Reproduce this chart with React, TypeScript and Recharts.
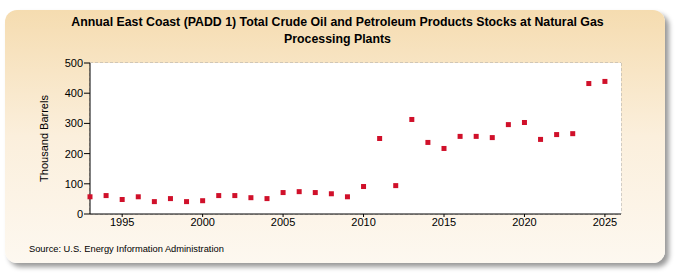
import { CartesianGrid, Scatter, ScatterChart, XAxis, YAxis } from "recharts"

const years = [
  1993, 1994, 1995, 1996, 1997, 1998, 1999, 2000, 2001, 2002, 2003, 2004, 2005, 2006, 2007, 2008, 2009,
  2010, 2011, 2012, 2013, 2014, 2015, 2016, 2017, 2018, 2019, 2020, 2021, 2022, 2023, 2024, 2025,
]
const stocks = [
  57, 61, 48, 57, 41, 51, 41, 44, 61, 61, 54, 51, 71, 74, 71, 67, 57,
  91, 250, 94, 313, 237, 217, 257, 257, 253, 296, 303, 247, 263, 266, 432, 439,
]
const xTicks = [1995, 2000, 2005, 2010, 2015, 2020, 2025]
const yTicks = [0, 100, 200, 300, 400, 500]

const data = years.map((year, i) => ({ year, value: stocks[i] }))

const font = "'Liberation Sans', Arial, sans-serif"

const Square = (props: any) => {
  const { cx, cy } = props
  return <rect x={cx - 2.5} y={cy - 2.5} width={5} height={5} fill="#d0102a" />
}

export default function App() {
  return (
    <div style={{ position: "absolute", left: 0, top: 0, width: 675, height: 275, fontFamily: font }}>
      <div
        style={{
          position: "absolute",
          left: 5,
          top: 10,
          width: 660,
          height: 253,
          borderRadius: 12,
          background: "linear-gradient(to bottom, #f5dcb0 0%, #fbefdc 50%, #fdf8f0 100%)",
          boxShadow: "4px 4px 5px #9a9a9a",
        }}
      />
      <div
        style={{
          position: "absolute",
          left: 0,
          top: 13,
          width: 675,
          textAlign: "center",
          fontWeight: "bold",
          fontSize: 13,
          lineHeight: "17px",
          color: "#000",
          transform: "scaleX(0.948)",
        }}
      >
        Annual East Coast (PADD 1) Total Crude Oil and Petroleum Products Stocks at Natural Gas
        <br />
        Processing Plants
      </div>
      <div style={{ position: "absolute", left: 29, top: 244, fontSize: 9.3, color: "#000" }}>
        Source: U.S. Energy Information Administration
      </div>
      <div style={{ position: "absolute", left: 0, top: 0 }}>
        <ScatterChart width={675} height={275} margin={{ top: 63, right: 54, left: 30, bottom: 31 }}>
          <rect x={90} y={63} width={531} height={151} fill="#ffffff" />
          <CartesianGrid stroke="#a8a8a8" strokeDasharray="3 2" />
          <XAxis
            type="number"
            dataKey="year"
            domain={[1993, 2026]}
            ticks={xTicks}
            height={30}
            tickSize={3}
            tickMargin={1}
            axisLine={{ stroke: "#000" }}
            tickLine={{ stroke: "#000" }}
            tick={{ fill: "#000", fontSize: 11, fontFamily: font }}
            allowDecimals={false}
          />
          <YAxis
            type="number"
            dataKey="value"
            domain={[0, 500]}
            ticks={yTicks}
            width={60}
            tickSize={6}
            tickMargin={1}
            axisLine={{ stroke: "#000" }}
            tickLine={{ stroke: "#000" }}
            tick={{ fill: "#000", fontSize: 11, fontFamily: font }}
            label={{
              value: "Thousand Barrels",
              angle: -90,
              position: "insideLeft",
              offset: 14,
              style: { textAnchor: "middle", fontSize: 11, fill: "#000", fontFamily: font },
            }}
          />
          <Scatter data={data} shape={Square} isAnimationActive={false} />
        </ScatterChart>
      </div>
    </div>
  )
}
